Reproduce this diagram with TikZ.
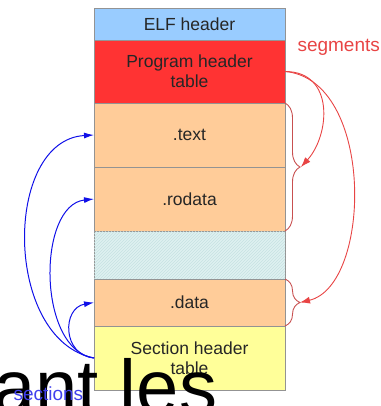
\documentclass[tikz,border=0pt]{standalone}
\usepackage{fontspec}
\setmainfont{Liberation Sans}
\usetikzlibrary{positioning,calc,arrows.meta,decorations.pathreplacing,patterns}
\definecolor{elfblue}{HTML}{99CCFF}
\definecolor{phtred}{HTML}{FF3333}
\definecolor{secorange}{HTML}{FFCC99}
\definecolor{gapcyan}{HTML}{DFF1F1}
\definecolor{hatchcyan}{HTML}{C6E2E2}
\definecolor{shtyellow}{HTML}{FFFF99}
\definecolor{segred}{HTML}{E84444}
\definecolor{bracered}{HTML}{C85050}
\definecolor{secblue}{HTML}{1010E8}
\begin{document}
\begin{tikzpicture}[x=1pt,y=-1pt,
  row/.style={draw=gray!85,fill=#1,minimum width=191pt,inner sep=0pt,outer sep=0pt,
    align=center,font=\fontsize{17.5}{20}\selectfont,text=black!85},
  segbrace/.style={decorate,decoration={brace,amplitude=15pt},draw=bracered,line width=0.9pt},
  segarrow/.style={draw=segred,line width=0.9pt,-{Latex[length=10pt,width=7pt]}},
  secarrow/.style={draw=secblue,line width=1pt,-{Latex[length=10pt,width=6pt]}}]
\useasboundingbox (0,0) rectangle (380,406);
\clip (0,0) rectangle (380,406);
% the file layout
\node [row=elfblue,minimum height=32pt] (elf) at (189.5,24) {ELF header};
\node [row=phtred,minimum height=63pt,below=0pt of elf] (pht) {Program header\\table};
\node [row=secorange,minimum height=64pt,below=0pt of pht] (text) {.text};
\node [row=secorange,minimum height=64pt,below=0pt of text] (rodata) {.rodata};
\node [row=gapcyan,minimum height=48pt,below=0pt of rodata,
  postaction={pattern=north east lines,pattern color=hatchcyan}] (gap) {};
\node [row=secorange,minimum height=47pt,below=0pt of gap] (data) {.data};
\node [row=shtyellow,minimum height=64pt,below=0pt of data] (sht) {Section header\\table};
% segments
\draw [segbrace] (text.north east) -- (rodata.south east);
\draw [segbrace] (data.north east) -- (data.south east);
\coordinate (seg1) at ($(text.south east)+(16,0)$);
\coordinate (seg2) at ($(data.east)+(15,0)$);
\node [anchor=base west,text=segred,font=\fontsize{19}{19}\selectfont] (seglabel) at (294,52) {segments};
\draw [segarrow] (pht.east) .. controls +(50,0) and +(29,-32) .. (seg1);
\draw [segarrow] (pht.east) .. controls +(90,8) and +(72,-17) .. (seg2);
% sections
\draw [secarrow] (sht.west) .. controls +(-91,-18) and +(-91,5) .. (text.west);
\draw [secarrow] (sht.west) .. controls +(-57,-8) and +(-57,6) .. (rodata.west);
\draw [secarrow] (sht.west) .. controls +(-32,-3) and +(-32,5.5) .. (data.west);
\node [anchor=base west,inner sep=0pt,font=\fontsize{76}{76}\selectfont] (overlay) at (-7,413) {ant les};
\node [anchor=base west,text=secblue!80,font=\fontsize{19}{19}\selectfont] (seclabel) at (10,400) {sections};
\end{tikzpicture}
\end{document}
